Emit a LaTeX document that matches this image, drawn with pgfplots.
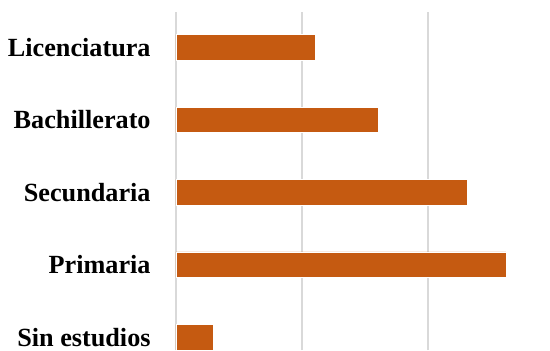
\documentclass[border=0pt]{standalone}
\usepackage{fontspec}
\setmainfont{Liberation Serif}
\usepackage{pgfplots}
\pgfplotsset{compat=1.18}
\definecolor{barorange}{HTML}{C55A11}
\definecolor{gridgray}{HTML}{D9D9D9}
\begin{document}
\begin{tikzpicture}
\begin{axis}[name=ax, scale only axis, width=374bp, height=338bp,
 xbar, bar width=25.6bp, xmin=0, xmax=29.67, ymin=-0.18, ymax=4.49,
 axis line style={draw=none},
 xtick={0,10,20}, xticklabels={},
 xmajorgrids, major grid style={gridgray, line width=1.5bp},
 ytick={0,1,2,3,4},
 yticklabels={Sin estudios,Primaria,Secundaria,Bachillerato,Licenciatura},
 tick style={draw=none},
 y tick label style={font=\fontsize{26.3}{30}\selectfont\bfseries, anchor=east, xshift=-17.5bp},
]
\addplot[fill=barorange, draw=white, line width=0.4bp] coordinates {(2.97,0) (26.18,1) (23.09,2) (16.03,3) (11.02,4)};
\end{axis}
\pgfresetboundingbox
\path ([xshift=-175.8bp]ax.south west) rectangle ([yshift=12bp]ax.north east);
\end{tikzpicture}
\end{document}
